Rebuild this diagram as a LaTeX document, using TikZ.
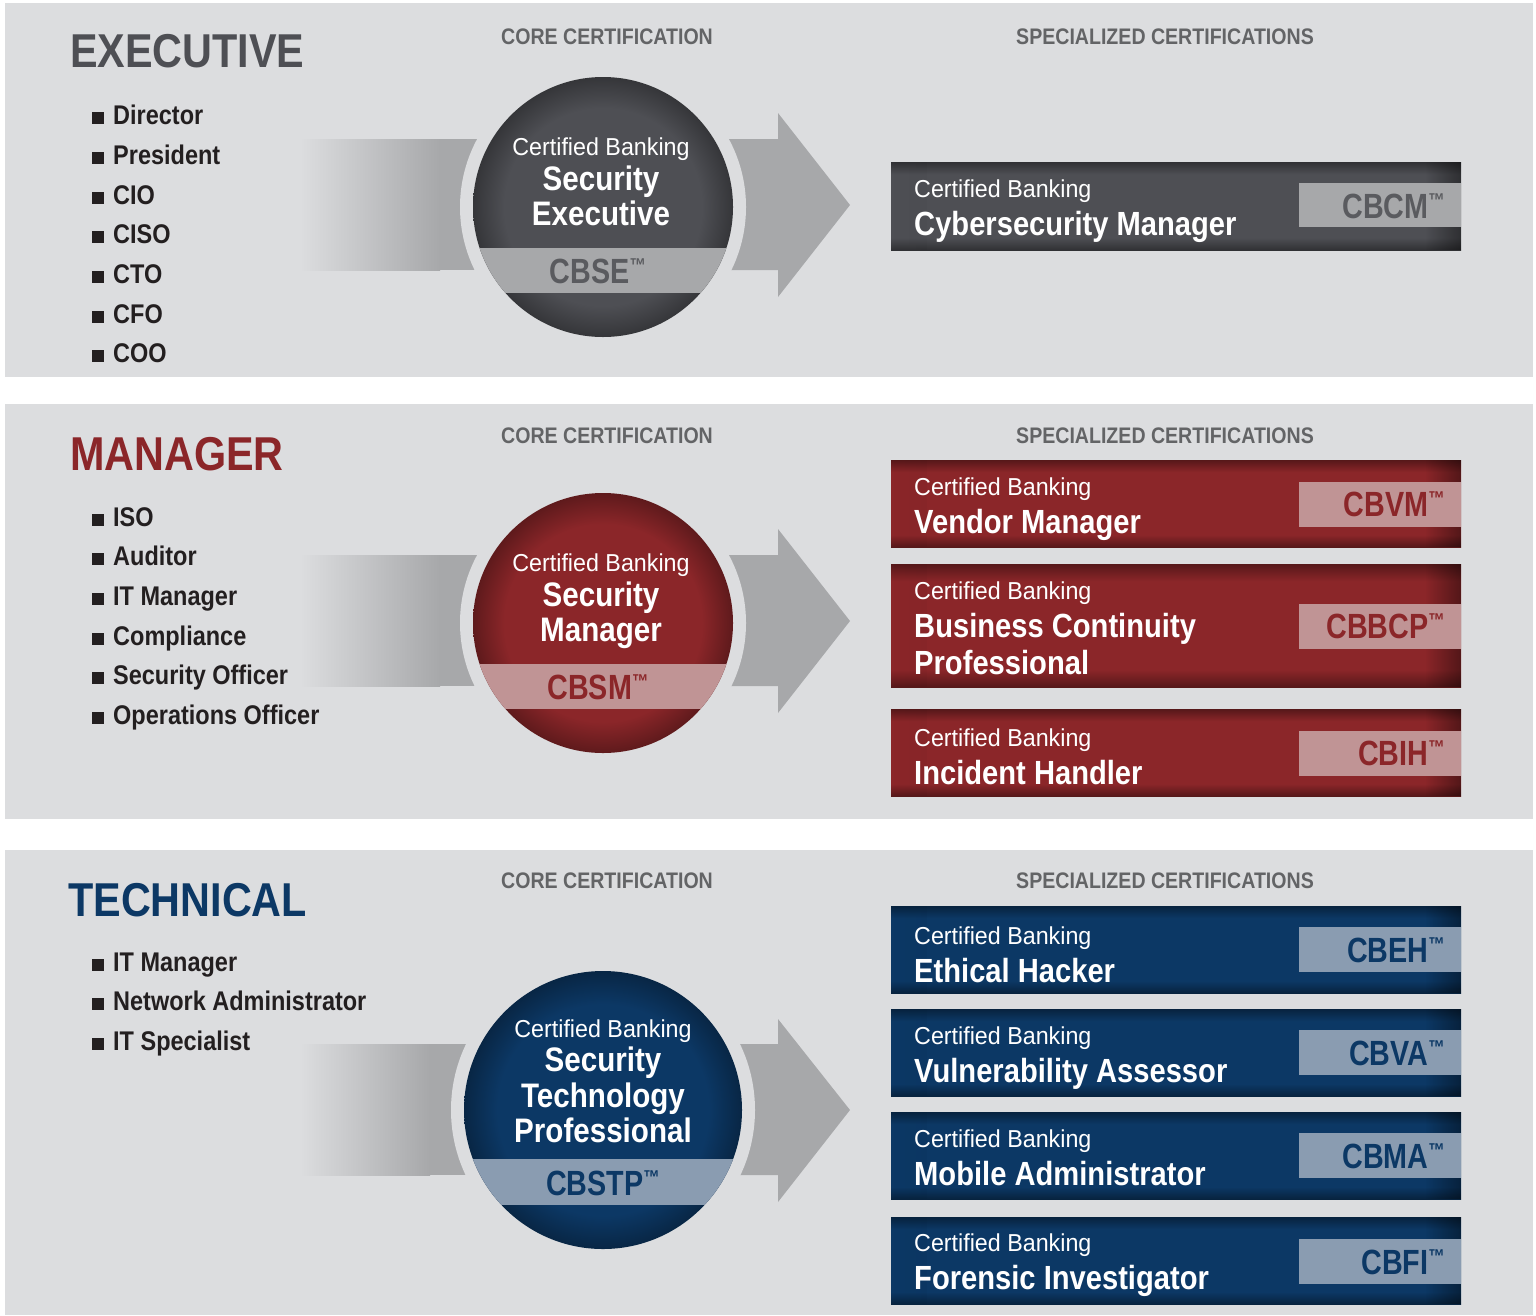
\documentclass[tikz,border=0pt]{standalone}
\usepackage{fontspec}
\setmainfont{Liberation Sans}[FakeStretch=0.87]
\newfontfamily\regfont{Liberation Sans}[FakeStretch=0.95]
\newfontfamily\codefont{Liberation Sans}[FakeStretch=0.82]
\usetikzlibrary{fadings}

\definecolor{panelbg}{HTML}{DCDDDF}
\definecolor{arrowgray}{HTML}{A7A8AA}
\definecolor{execgray}{HTML}{4E4F54}
\definecolor{execband}{HTML}{A7A8AA}
\definecolor{execcode}{HTML}{5A5B5F}
\definecolor{mgrred}{HTML}{8B2629}
\definecolor{mgrband}{HTML}{C09495}
\definecolor{techblue}{HTML}{0C3865}
\definecolor{techband}{HTML}{8A9CB1}
\definecolor{headgray}{HTML}{636466}
\definecolor{listblack}{HTML}{231F20}

\colorlet{ringin}{black}
\colorlet{ringout}{black}
\pgfdeclareradialshading[ringin,ringout]{ringshade}{\pgfpoint{0bp}{0bp}}{color(0bp)=(ringin); color(19bp)=(ringin); color(25bp)=(ringout); color(50bp)=(ringout)}
\colorlet{boxin}{black}
\colorlet{boxout}{black}
\pgfdeclareverticalshading[boxin,boxout]{boxshade}{100bp}{color(0bp)=(boxout); color(25bp)=(boxout); color(32bp)=(boxin); color(68bp)=(boxin); color(75bp)=(boxout); color(100bp)=(boxout)}

\newcommand{\tmk}{\raisebox{10.5pt}{\fontsize{20}{20}\selectfont ™}}

\begin{document}
\begin{tikzpicture}[x=1pt, y=-1pt,
    paneltitle/.style={anchor=base west, inner sep=0, font=\bfseries\fontsize{47.5}{47.5}\selectfont},
    header/.style={anchor=base, inner sep=0, text=headgray, font=\bfseries\fontsize{22.5}{22.5}\selectfont},
    role/.style={anchor=base west, inner sep=0, text=listblack, font=\bfseries\fontsize{27}{27}\selectfont},
    smallcb/.style={anchor=base west, inner sep=0, text=white, font=\regfont\fontsize{24.5}{24.5}\selectfont},
    circcb/.style={smallcb, anchor=base},
    certname/.style={anchor=base west, inner sep=0, text=white, font=\bfseries\fontsize{33.5}{33.5}\selectfont},
    circname/.style={certname, anchor=base, font=\bfseries\fontsize{34}{34}\selectfont},
    code/.style={anchor=base east, inner sep=0, font=\codefont\bfseries\fontsize{35}{35}\selectfont},
    circcode/.style={code, anchor=base},
    corecircle/.style={shading=ringshade, /utils/exec={\colorlet{ringin}{#1}\colorlet{ringout}{#1!68!black}}},
    specbox/.style={shading=boxshade, /utils/exec={\colorlet{boxin}{#1}\colorlet{boxout}{#1!62!black}}, path picture={
      \fill[black, opacity=0.4, path fading=west] (path picture bounding box.north west) rectangle ([xshift=36pt]path picture bounding box.south west);
      \fill[black, opacity=0.4, path fading=west] (path picture bounding box.north east) rectangle ([xshift=-36pt]path picture bounding box.south east);
    }}]
  \useasboundingbox (0,0) rectangle (1536,1315);

  % executive
  \fill[panelbg] (5,3) rectangle (1533,377);
  \node[paneltitle, text=execgray] (exectitle) at (70,67) {EXECUTIVE};
  \node[header] (execcore) at (607,44) {CORE CERTIFICATION};
  \node[header] (execspec) at (1165,44) {SPECIALIZED CERTIFICATIONS};
  \node[role] (director) at (92,124) {\rule{12pt}{12pt}\hspace{9pt}Director};
  \node[role] (president) at (92,164) {\rule{12pt}{12pt}\hspace{9pt}President};
  \node[role] (cio) at (92,204) {\rule{12pt}{12pt}\hspace{9pt}CIO};
  \node[role] (ciso) at (92,243) {\rule{12pt}{12pt}\hspace{9pt}CISO};
  \node[role] (cto) at (92,283) {\rule{12pt}{12pt}\hspace{9pt}CTO};
  \node[role] (cfo) at (92,323) {\rule{12pt}{12pt}\hspace{9pt}CFO};
  \node[role] (coo) at (92,362) {\rule{12pt}{12pt}\hspace{9pt}COO};
  \shade[left color=panelbg, right color=arrowgray] (300,139) rectangle (440,270);
  \fill[arrowgray] (439,139) rectangle (480,270);
  \fill[arrowgray] (700,139) -- (778,139) -- (778,113) -- (850,205) -- (778,297) -- (778,270) -- (700,270) -- cycle;
  \fill[panelbg] (603,207) circle (143pt);
  \shade[corecircle=execgray] (603,207) circle (130pt);
  \begin{scope}
    \clip (603,207) circle (130pt);
    \fill[execband] (460,248) rectangle (750,293);
  \end{scope}
  \node[circcb] (cbsecb) at (601,155) {Certified Banking};
  \node[circname] (cbsename) at (601,190) {Security};
  \node[circname] (cbsename2) at (601,225) {Executive};
  \node[circcode, text=execcode] (cbse) at (598,283) {CBSE\tmk};
  \shade[specbox=execgray] (891,162) rectangle (1461,250);
  \fill[execband] (1299,183) rectangle (1461,227);
  \node[smallcb] (cbcmcb) at (914,197) {Certified Banking};
  \node[certname] (cbcmname) at (914,235) {Cybersecurity Manager};
  \node[code, text=execcode] (cbcm) at (1445,218) {CBCM\tmk};

  % manager
  \fill[panelbg] (5,404) rectangle (1533,819);
  \node[paneltitle, text=mgrred] (mgrtitle) at (70,470) {MANAGER};
  \node[header] (mgrcore) at (607,443) {CORE CERTIFICATION};
  \node[header] (mgrspec) at (1165,443) {SPECIALIZED CERTIFICATIONS};
  \node[role] (iso) at (92,526) {\rule{12pt}{12pt}\hspace{9pt}ISO};
  \node[role] (auditor) at (92,565) {\rule{12pt}{12pt}\hspace{9pt}Auditor};
  \node[role] (itmgr) at (92,605) {\rule{12pt}{12pt}\hspace{9pt}IT Manager};
  \node[role] (compliance) at (92,645) {\rule{12pt}{12pt}\hspace{9pt}Compliance};
  \node[role] (secofficer) at (92,684) {\rule{12pt}{12pt}\hspace{9pt}Security Officer};
  \node[role] (opofficer) at (92,724) {\rule{12pt}{12pt}\hspace{9pt}Operations Officer};
  \shade[left color=panelbg, right color=arrowgray] (300,555) rectangle (440,686);
  \fill[arrowgray] (439,555) rectangle (480,686);
  \fill[arrowgray] (700,555) -- (778,555) -- (778,529) -- (850,621) -- (778,713) -- (778,686) -- (700,686) -- cycle;
  \fill[panelbg] (603,623) circle (143pt);
  \shade[corecircle=mgrred] (603,623) circle (130pt);
  \begin{scope}
    \clip (603,623) circle (130pt);
    \fill[mgrband] (460,664) rectangle (750,709);
  \end{scope}
  \node[circcb] (cbsmcb) at (601,571) {Certified Banking};
  \node[circname] (cbsmname) at (601,606) {Security};
  \node[circname] (cbsmname2) at (601,641) {Manager};
  \node[circcode, text=mgrred] (cbsm) at (598,699) {CBSM\tmk};
  \shade[specbox=mgrred] (891,460) rectangle (1461,547);
  \fill[mgrband] (1299,482) rectangle (1461,527);
  \node[smallcb] (cbvmcb) at (914,495) {Certified Banking};
  \node[certname] (cbvmname) at (914,533) {Vendor Manager};
  \node[code, text=mgrred] (cbvm) at (1445,516) {CBVM\tmk};
  \shade[specbox=mgrred] (891,564) rectangle (1461,687);
  \fill[mgrband] (1299,604) rectangle (1461,649);
  \node[smallcb] (cbbcpcb) at (914,599) {Certified Banking};
  \node[certname] (cbbcpname) at (914,637) {Business Continuity};
  \node[certname] (cbbcpname2) at (914,674) {Professional};
  \node[code, text=mgrred] (cbbcp) at (1445,638) {CBBCP\tmk};
  \shade[specbox=mgrred] (891,709) rectangle (1461,796);
  \fill[mgrband] (1299,731) rectangle (1461,776);
  \node[smallcb] (cbihcb) at (914,746) {Certified Banking};
  \node[certname] (cbihname) at (914,784) {Incident Handler};
  \node[code, text=mgrred] (cbih) at (1445,765) {CBIH\tmk};

  % technical
  \fill[panelbg] (5,850) rectangle (1533,1315);
  \node[paneltitle, text=techblue] (techtitle) at (68,916) {TECHNICAL};
  \node[header] (techcore) at (607,888) {CORE CERTIFICATION};
  \node[header] (techspec) at (1165,888) {SPECIALIZED CERTIFICATIONS};
  \node[role] (itmgr2) at (92,971) {\rule{12pt}{12pt}\hspace{9pt}IT Manager};
  \node[role] (netadmin) at (92,1010) {\rule{12pt}{12pt}\hspace{9pt}Network Administrator};
  \node[role] (itspec) at (92,1050) {\rule{12pt}{12pt}\hspace{9pt}IT Specialist};
  \shade[left color=panelbg, right color=arrowgray] (300,1044) rectangle (430,1175);
  \fill[arrowgray] (429,1044) rectangle (475,1175);
  \fill[arrowgray] (700,1044) -- (778,1044) -- (778,1019) -- (850,1110) -- (778,1202) -- (778,1175) -- (700,1175) -- cycle;
  \fill[panelbg] (603,1110) circle (152pt);
  \shade[corecircle=techblue] (603,1110) circle (139pt);
  \begin{scope}
    \clip (603,1110) circle (139pt);
    \fill[techband] (460,1159) rectangle (750,1205);
  \end{scope}
  \node[circcb] (cbstpcb) at (603,1037) {Certified Banking};
  \node[circname] (cbstpname) at (603,1071) {Security};
  \node[circname] (cbstpname2) at (603,1107) {Technology};
  \node[circname] (cbstpname3) at (603,1142) {Professional};
  \node[circcode, text=techblue] (cbstp) at (603,1195) {CBSTP\tmk};
  \shade[specbox=techblue] (891,906) rectangle (1461,993);
  \fill[techband] (1299,927) rectangle (1461,972);
  \node[smallcb] (cbehcb) at (914,944) {Certified Banking};
  \node[certname] (cbehname) at (914,982) {Ethical Hacker};
  \node[code, text=techblue] (cbeh) at (1445,962) {CBEH\tmk};
  \shade[specbox=techblue] (891,1009) rectangle (1461,1096);
  \fill[techband] (1299,1030) rectangle (1461,1075);
  \node[smallcb] (cbvacb) at (914,1044) {Certified Banking};
  \node[certname] (cbvaname) at (914,1082) {Vulnerability Assessor};
  \node[code, text=techblue] (cbva) at (1445,1065) {CBVA\tmk};
  \shade[specbox=techblue] (891,1112) rectangle (1461,1199);
  \fill[techband] (1299,1133) rectangle (1461,1178);
  \node[smallcb] (cbmacb) at (914,1147) {Certified Banking};
  \node[certname] (cbmaname) at (914,1185) {Mobile Administrator};
  \node[code, text=techblue] (cbma) at (1445,1168) {CBMA\tmk};
  \shade[specbox=techblue] (891,1217) rectangle (1461,1304);
  \fill[techband] (1299,1239) rectangle (1461,1284);
  \node[smallcb] (cbficb) at (914,1251) {Certified Banking};
  \node[certname] (cbfiname) at (914,1289) {Forensic Investigator};
  \node[code, text=techblue] (cbfi) at (1445,1274) {CBFI\tmk};
\end{tikzpicture}
\end{document}
